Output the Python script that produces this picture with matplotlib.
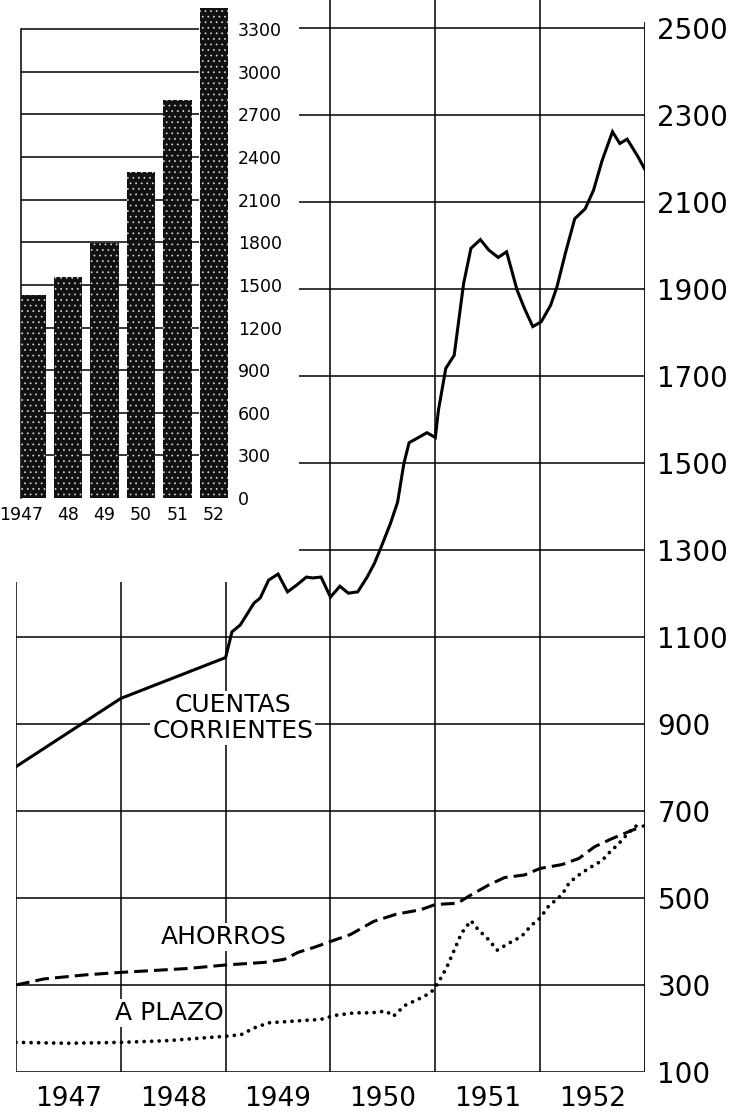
import matplotlib.pyplot as plt
from matplotlib.transforms import ScaledTranslation

plt.rcParams['font.family'] = ['DejaVu Sans']
plt.rcParams['hatch.linewidth'] = 0.5

# inset bar chart: yearly totals
bar_labels = ["1947", "48", "49", "50", "51", "52"]
bar_values = [1430, 1555, 1795, 2295, 2800, 3450]
bar_ticks = list(range(0, 3301, 300))

# main chart
year_labels = ["1947", "1948", "1949", "1950", "1951", "1952"]
main_ticks = list(range(100, 2501, 200))

# CUENTAS CORRIENTES (solid)
cc_x = [1947.00, 1948.00, 1949.00,
        1949.06, 1949.14, 1949.27, 1949.33, 1949.41, 1949.50, 1949.59, 1949.68, 1949.77, 1949.83, 1949.91,
        1950.00, 1950.09, 1950.17, 1950.26, 1950.35, 1950.42, 1950.48, 1950.57, 1950.64, 1950.70, 1950.75, 1950.84, 1950.92,
        1951.00, 1951.03, 1951.10, 1951.18, 1951.27, 1951.34, 1951.43, 1951.51, 1951.60, 1951.68, 1951.78, 1951.85, 1951.93,
        1952.01, 1952.10, 1952.16, 1952.24, 1952.33, 1952.43, 1952.51, 1952.59, 1952.69, 1952.76, 1952.83, 1952.93,
        1953.00]
cc_y = [802, 959, 1053,
        1112, 1128, 1178, 1190, 1231, 1245, 1204, 1220, 1238, 1236, 1238,
        1192, 1217, 1201, 1204, 1238, 1270, 1305, 1360, 1410, 1499, 1547, 1559, 1570,
        1559, 1622, 1718, 1748, 1913, 1994, 2014, 1990, 1973, 1986, 1898, 1856, 1814,
        1825, 1863, 1905, 1982, 2062, 2085, 2128, 2195, 2262, 2235, 2245, 2206,
        2175]

# AHORROS (dashed)
ah_x = [1947.00, 1947.27, 1947.65, 1948.00, 1948.29, 1948.64, 1949.00, 1949.37, 1949.56, 1949.69,
        1949.85, 1950.00, 1950.19, 1950.41, 1950.63, 1950.86, 1951.00, 1951.21, 1951.34, 1951.51,
        1951.66, 1951.85, 1952.00, 1952.21, 1952.37, 1952.52, 1952.68, 1952.87, 1953.00]
ah_y = [300, 314, 323, 329, 333, 338, 346, 352, 359, 375,
        387, 400, 416, 446, 463, 473, 485, 488, 507, 530,
        547, 553, 568, 577, 591, 618, 636, 655, 667]

# A PLAZO (dotted)
ap_x = [1947.00, 1947.50, 1948.00, 1948.45, 1948.77, 1949.00, 1949.15, 1949.27, 1949.41, 1949.66,
        1949.91, 1950.04, 1950.23, 1950.39, 1950.53, 1950.60, 1950.71, 1950.87, 1950.96, 1951.03,
        1951.11, 1951.18, 1951.25, 1951.34, 1951.41, 1951.51, 1951.59, 1951.73, 1951.82, 1951.92,
        1952.00, 1952.08, 1952.21, 1952.28, 1952.38, 1952.49, 1952.59, 1952.65, 1952.75, 1952.81,
        1952.90, 1952.98]
ap_y = [168, 166, 168, 172, 178, 182, 186, 201, 213, 217,
        221, 230, 236, 236, 240, 228, 253, 271, 283, 306,
        341, 380, 419, 448, 427, 404, 380, 400, 411, 438,
        454, 481, 508, 536, 555, 572, 586, 602, 625, 641,
        664, 671]

fig = plt.figure(figsize=(7.33, 11.15), dpi=100)

# ---- main chart ----
ax = fig.add_axes([0.0218, 0.0386, 0.8581, 0.9614])
ax.set_xlim(1947, 1953)
ax.set_ylim(100, 2565)
for s in ax.spines.values():
    s.set_visible(False)

grid_kw = dict(color="black", linewidth=1.1, zorder=1)
for v in main_ticks:
    if v <= 1100:
        ax.hlines(v, 1947, 1953, **grid_kw)
    else:
        ax.hlines(v, 1949.70, 1953, **grid_kw)
for yr in [1947, 1948, 1949]:
    ax.vlines(yr, 100, 1226, **grid_kw)
for yr in [1950, 1951, 1952]:
    ax.vlines(yr, 100, 2565, **grid_kw)
ax.vlines(1953, 100, 2515, color="black", linewidth=1.3, zorder=1)

ax.plot(cc_x, cc_y, color="black", linewidth=2.2, solid_joinstyle="miter", zorder=3)
ax.plot(ah_x, ah_y, color="black", linewidth=2.2, linestyle=(0, (4.5, 2)), dash_capstyle="butt", zorder=3)
ax.plot(ap_x, ap_y, color="black", linewidth=2.7, linestyle=(0, (0.01, 2.0)), dash_capstyle="round", zorder=3)

box = dict(facecolor="white", edgecolor="none", pad=1.5)
ax.text(1949.07, 914, "CUENTAS\nCORRIENTES", fontsize=18, ha="center", va="center",
        linespacing=1.15, bbox=box, zorder=2)
ax.text(1948.98, 410, "AHORROS", fontsize=18, ha="center", va="center", bbox=box, zorder=2)
ax.text(1948.46, 236, "A PLAZO", fontsize=18, ha="center", va="center", bbox=box, zorder=2)

ax.yaxis.tick_right()
ax.set_yticks(main_ticks)
ax.set_yticklabels([str(v) for v in main_ticks], fontsize=20)
ax.tick_params(axis="y", length=0, pad=9)
ax.set_xticks([y + 0.5 for y in range(1947, 1953)])
ax.set_xticklabels(year_labels, fontsize=19)
ax.tick_params(axis="x", length=0, pad=10)

# ---- inset bar chart ----
ax2 = fig.add_axes([0.0286, 0.5534, 0.2824, 0.4466])
ax2.set_facecolor("none")
xpos = list(range(len(bar_labels)))
ax2.set_xlim(-0.30, 5.39)
ax2.set_ylim(0, 3506)
for s in ["top", "right", "bottom"]:
    ax2.spines[s].set_visible(False)
ax2.spines["left"].set_bounds(0, 3300)
ax2.spines["left"].set_linewidth(1.1)
for v in bar_ticks[1:]:
    ax2.hlines(v, -0.30, 4.6, color="black", linewidth=1.1, zorder=1)
ax2.bar(xpos, bar_values, width=0.78, color="#111111", edgecolor="#dddddd",
        linewidth=0, hatch="...", zorder=3)
ax2.yaxis.tick_right()
ax2.set_yticks(bar_ticks)
ax2.set_yticklabels([str(v) for v in bar_ticks], fontsize=12.5)
ax2.tick_params(axis="y", length=0, pad=7)
ax2.set_xticks(xpos)
ax2.set_xticklabels(bar_labels, fontsize=12.5)
ax2.tick_params(axis="x", length=0, pad=6)
# nudge the wide first label left, as in the original
lbl = ax2.get_xticklabels()[0]
lbl.set_transform(lbl.get_transform() + ScaledTranslation(-8 / 72, 0, fig.dpi_scale_trans))

fig.savefig("out.png", dpi=100)
